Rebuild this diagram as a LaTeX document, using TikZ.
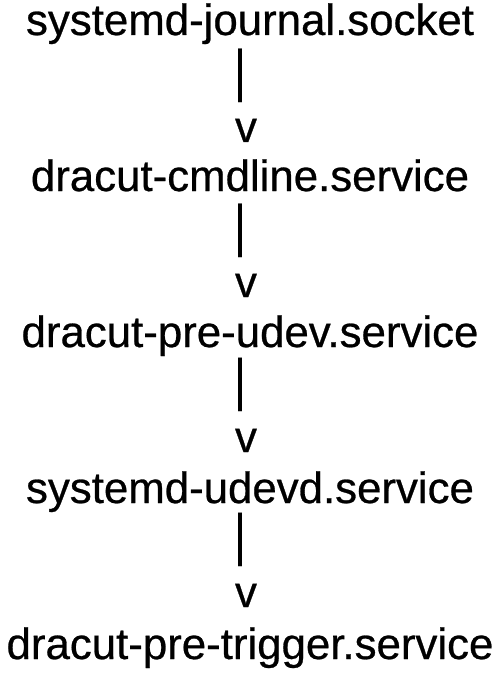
\documentclass[tikz,border=0pt]{standalone}
\usepackage{fontspec}
\setmainfont[FakeBold=0.6]{Liberation Sans}
\newcommand{\tallbar}{\scalebox{1}[1.3]{|}}
\begin{document}
\begin{tikzpicture}[x=1pt,y=-1pt,line width=.55pt,
  every node/.style={font=\fontsize{43.8}{52}\selectfont,inner sep=0pt,anchor=base}]
  \path[use as bounding box] (0,0) rectangle (500,674);
  \node (journal) at (250,35) {systemd-journal.socket};
  \node (bar1) at (240,90) {\tallbar};
  \node (v1) at (246,142) {v};
  \node (cmdline) at (250,191) {dracut-cmdline.service};
  \node (bar2) at (240,245) {\tallbar};
  \node (v2) at (246,297) {v};
  \node (preudev) at (250,347) {dracut-pre-udev.service};
  \node (bar3) at (240,399) {\tallbar};
  \node (v3) at (246,452) {v};
  \node (udevd) at (250,503) {systemd-udevd.service};
  \node (bar4) at (240,554) {\tallbar};
  \node (v4) at (246,607) {v};
  \node (pretrigger) at (250,659) {dracut-pre-trigger.service};
\end{tikzpicture}
\end{document}
